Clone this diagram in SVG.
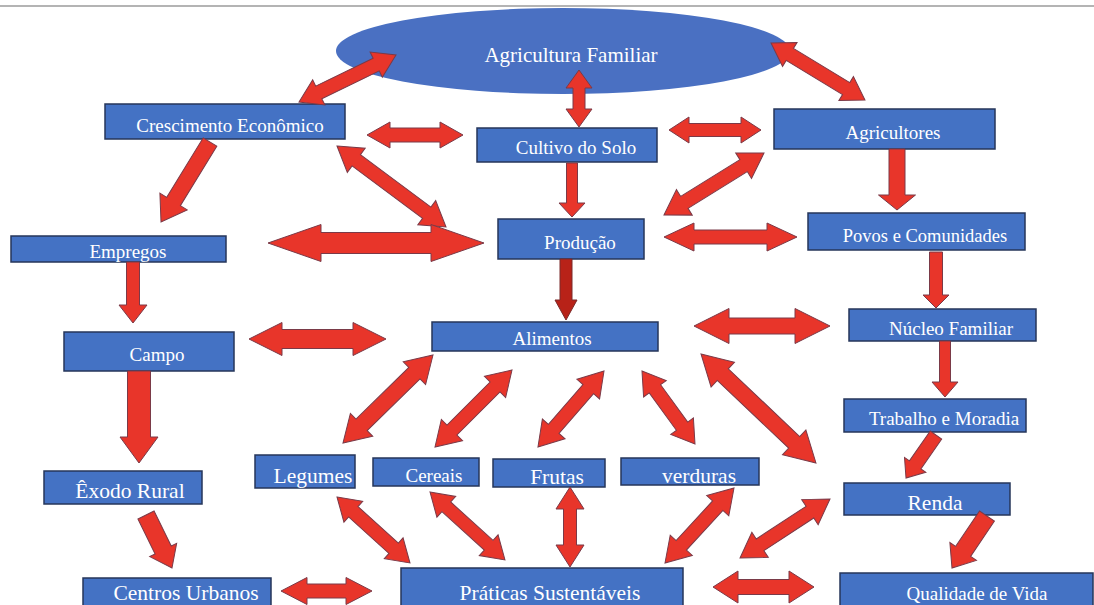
<svg xmlns="http://www.w3.org/2000/svg" width="1094" height="605" viewBox="0 0 1094 605">
<style>
.box{fill:#4472C4;stroke:#26365a;stroke-width:1.5}
.ell{fill:#4A70C2}
.t{fill:#ffffff;font-family:"Liberation Serif","Times New Roman",serif;text-anchor:middle}
.s19{font-size:19px}
.s21{font-size:21.5px}
.arr{fill:#E8352A;stroke:#7a3a48;stroke-width:1;stroke-linejoin:miter}
.dark{fill:#B82218;stroke:#7a2a2a}
</style>
<rect x="0" y="0" width="1094" height="605" fill="#ffffff"/>
<line x1="0" y1="6" x2="1094" y2="6" stroke="#b4b4b4" stroke-width="2"/>

<g id="nodes">
<g id="agricultura-familiar"><ellipse class="ell" cx="563" cy="51" rx="227" ry="43"/><text class="t" x="571" y="62" font-size="21">Agricultura Familiar</text></g>
<g id="crescimento"><rect class="box" x="105" y="104" width="240" height="35"/><text class="t s19" x="230" y="132">Crescimento Econômico</text></g>
<g id="cultivo"><rect class="box" x="477" y="128" width="180" height="34"/><text class="t s19" x="576" y="154">Cultivo do Solo</text></g>
<g id="producao"><rect class="box" x="498" y="219" width="146" height="40"/><text class="t s19" x="580" y="249">Produção</text></g>
<g id="agricultores"><rect class="box" x="774" y="109" width="221" height="40"/><text class="t s19" x="893" y="139">Agricultores</text></g>
<g id="povos"><rect class="box" x="808" y="213" width="217" height="37"/><text class="t" x="925" y="242" font-size="18.5">Povos e Comunidades</text></g>
<g id="empregos"><rect class="box" x="11" y="236" width="215" height="26"/><text class="t s19" x="128" y="258">Empregos</text></g>
<g id="campo"><rect class="box" x="64" y="332" width="170" height="39"/><text class="t s19" x="157" y="361">Campo</text></g>
<g id="alimentos"><rect class="box" x="432" y="322" width="226" height="29"/><text class="t s19" x="552" y="345">Alimentos</text></g>
<g id="nucleo"><rect class="box" x="849" y="309" width="187" height="32"/><text class="t s19" x="951" y="335">Núcleo Familiar</text></g>
<g id="trabalho"><rect class="box" x="844" y="399" width="182" height="33"/><text class="t s19" x="944" y="425">Trabalho e Moradia</text></g>
<g id="legumes"><rect class="box" x="255" y="455" width="100" height="33"/><text class="t s21" x="313" y="483">Legumes</text></g>
<g id="cereais"><rect class="box" x="373" y="458" width="106" height="28"/><text class="t s19" x="434" y="482">Cereais</text></g>
<g id="frutas"><rect class="box" x="493" y="459" width="112" height="28"/><text class="t s21" x="557" y="484">Frutas</text></g>
<g id="verduras"><rect class="box" x="621" y="458" width="138" height="27"/><text class="t s21" x="699" y="483">verduras</text></g>
<g id="exodo"><rect class="box" x="44" y="471" width="158" height="33"/><text class="t s21" x="130" y="498">Êxodo Rural</text></g>
<g id="renda"><rect class="box" x="844" y="483" width="166" height="32"/><text class="t s21" x="935" y="510">Renda</text></g>
<g id="centros"><rect class="box" x="83" y="578" width="188" height="40"/><text class="t s21" x="186" y="600">Centros Urbanos</text></g>
<g id="praticas"><rect class="box" x="401" y="568" width="282" height="45"/><text class="t s21" x="550" y="600">Práticas Sustentáveis</text></g>
<g id="qualidade"><rect class="box" x="840" y="573" width="253" height="40"/><text class="t s19" x="977" y="600">Qualidade de Vida</text></g>
</g>

<g id="connectors">
<polygon class="arr" transform="translate(396,55) rotate(154.15)" points="0,0 22,-14 22,-7 85.8,-7 85.8,-14 107.8,0 85.8,14 85.8,7 22,7 22,14"/>
<polygon class="arr" transform="translate(579,70) rotate(90)" points="0,0 18,-13 18,-6 39,-6 39,-13 57,0 39,13 39,6 18,6 18,13"/>
<polygon class="arr" transform="translate(771,43) rotate(31.23)" points="0,0 22,-14 22,-7 87.9,-7 87.9,-14 109.9,0 87.9,14 87.9,7 22,7 22,14"/>
<polygon class="arr" transform="translate(367,135)" points="0,0 23,-13 23,-7 73,-7 73,-13 96,0 73,13 73,7 23,7 23,13"/>
<polygon class="arr" transform="translate(210,142) rotate(121.48)" points="0,-8 69.8,-8 69.8,-16 93.8,0 69.8,16 69.8,8 0,8"/>
<polygon class="arr" transform="translate(337,146) rotate(36.61)" points="0,0 24,-15 24,-7 111.8,-7 111.8,-15 135.8,0 111.8,15 111.8,7 24,7 24,15"/>
<polygon class="arr" transform="translate(268,243)" points="0,0 53,-18.5 53,-10.5 163,-10.5 163,-18.5 216,0 163,18.5 163,10.5 53,10.5 53,18.5"/>
<polygon class="arr" transform="translate(572,163) rotate(90)" points="0,-5.5 40,-5.5 40,-13 54,0 40,13 40,5.5 0,5.5"/>
<polygon class="arr" transform="translate(669,130)" points="0,0 20,-13 20,-6.5 72,-6.5 72,-13 92,0 72,13 72,6.5 20,6.5 20,13"/>
<polygon class="arr" transform="translate(764,153) rotate(148.2)" points="0,0 24,-15 24,-7 93.7,-7 93.7,-15 117.7,0 93.7,15 93.7,7 24,7 24,15"/>
<polygon class="arr" transform="translate(897,149) rotate(90)" points="0,-8 46,-8 46,-18.5 61,0 46,18.5 46,8 0,8"/>
<polygon class="arr" transform="translate(664,237)" points="0,0 30,-14 30,-7 103,-7 103,-14 133,0 103,14 103,7 30,7 30,14"/>
<polygon class="arr" transform="translate(936,252) rotate(90)" points="0,-6.5 43,-6.5 43,-13 56,0 43,13 43,6.5 0,6.5"/>
<polygon class="arr dark" transform="translate(566,259) rotate(90)" points="0,-6 41,-6 41,-11 61,0 41,11 41,6 0,6"/>
<polygon class="arr" transform="translate(133,262) rotate(90)" points="0,-6.5 43,-6.5 43,-14 61,0 43,14 43,6.5 0,6.5"/>
<polygon class="arr" transform="translate(139,371) rotate(90)" points="0,-11.5 66,-11.5 66,-19 92,0 66,19 66,11.5 0,11.5"/>
<polygon class="arr" transform="translate(249,339)" points="0,0 33,-16.5 33,-9.5 104,-9.5 104,-16.5 137,0 104,16.5 104,9.5 33,9.5 33,16.5"/>
<polygon class="arr" transform="translate(694,326)" points="0,0 35,-17.5 35,-8 101,-8 101,-17.5 136,0 101,17.5 101,8 35,8 35,17.5"/>
<polygon class="arr" transform="translate(433,355) rotate(135.64)" points="0,0 26,-16 26,-8 99.9,-8 99.9,-16 125.9,0 99.9,16 99.9,8 26,8 26,16"/>
<polygon class="arr" transform="translate(512,370) rotate(135)" points="0,0 24,-15 24,-7 84.9,-7 84.9,-15 108.9,0 84.9,15 84.9,7 24,7 24,15"/>
<polygon class="arr" transform="translate(604,371) rotate(130.97)" points="0,0 24,-15 24,-7 76.7,-7 76.7,-15 100.7,0 76.7,15 76.7,7 24,7 24,15"/>
<polygon class="arr" transform="translate(642,371) rotate(54.02)" points="0,0 22,-14 22,-7 68.2,-7 68.2,-14 90.2,0 68.2,14 68.2,7 22,7 22,14"/>
<polygon class="arr" transform="translate(701,354) rotate(43.47)" points="0,0 30,-17 30,-8 128.4,-8 128.4,-17 158.4,0 128.4,17 128.4,8 30,8 30,17"/>
<polygon class="arr" transform="translate(945,341) rotate(90)" points="0,-5.5 41,-5.5 41,-13 56,0 41,13 41,5.5 0,5.5"/>
<polygon class="arr" transform="translate(936,435) rotate(124.9)" points="0,-7 36.4,-7 36.4,-13 52.4,0 36.4,13 36.4,7 0,7"/>
<polygon class="arr" transform="translate(987,516) rotate(123.94)" points="0,-9 42.7,-9 42.7,-16 62.7,0 42.7,16 42.7,9 0,9"/>
<polygon class="arr" transform="translate(146,515) rotate(63.87)" points="0,-9 39,-9 39,-15 59,0 39,15 39,9 0,9"/>
<polygon class="arr" transform="translate(281,591)" points="0,0 26,-13.5 26,-7 65,-7 65,-13.5 91,0 65,13.5 65,7 26,7 26,13.5"/>
<polygon class="arr" transform="translate(337,497) rotate(42.12)" points="0,0 22,-14 22,-7 76.4,-7 76.4,-14 98.4,0 76.4,14 76.4,7 22,7 22,14"/>
<polygon class="arr" transform="translate(430,492) rotate(42.2)" points="0,0 22,-14 22,-6.5 79.2,-6.5 79.2,-14 101.2,0 79.2,14 79.2,6.5 22,6.5 22,14"/>
<polygon class="arr" transform="translate(570,487) rotate(90)" points="0,0 22,-14 22,-6.5 58,-6.5 58,-14 80,0 58,14 58,6.5 22,6.5 22,14"/>
<polygon class="arr" transform="translate(734,488) rotate(132.61)" points="0,0 24,-15 24,-7 77.9,-7 77.9,-15 101.9,0 77.9,15 77.9,7 24,7 24,15"/>
<polygon class="arr" transform="translate(830,499) rotate(146.75)" points="0,0 24,-15 24,-7 83.6,-7 83.6,-15 107.6,0 83.6,15 83.6,7 24,7 24,15"/>
<polygon class="arr" transform="translate(713,587)" points="0,0 25,-16 25,-7.5 76,-7.5 76,-16 101,0 76,16 76,7.5 25,7.5 25,16"/>
</g>
</svg>
